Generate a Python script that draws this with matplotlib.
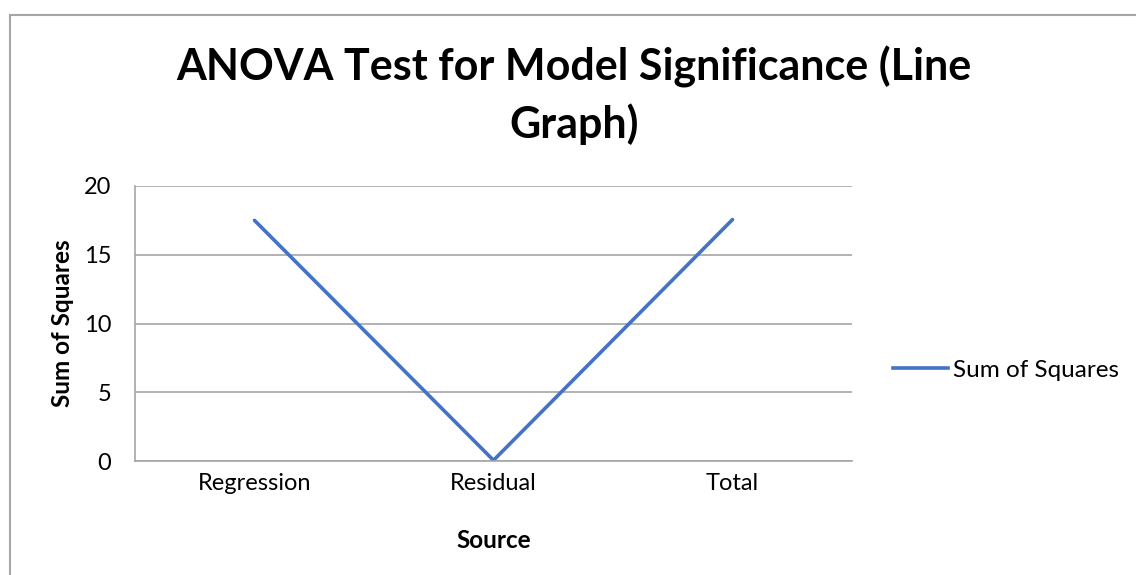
import matplotlib
matplotlib.use("Agg")
import matplotlib.pyplot as plt
from matplotlib.patches import Rectangle
from matplotlib.lines import Line2D

categories = ["Regression", "Residual", "Total"]
sum_of_squares = [17.5, 0.05, 17.56]
yticks = [0, 5, 10, 15, 20]

plt.rcParams['font.family'] = ['Lato', 'DejaVu Sans']

W, H = 1136, 575
fig = plt.figure(figsize=(W / 100, H / 100), dpi=100)

# outer chart border
fig.add_artist(Rectangle((10 / W, -0.01), 1.2, 1 - 15 / H + 0.01, transform=fig.transFigure,
                         fill=False, edgecolor="#a6a6a6", linewidth=1.5))

ax = fig.add_axes([135 / W, 1 - 461 / H, (852 - 135) / W, (461 - 186) / H])
x = range(len(categories))
ax.plot(x, sum_of_squares, color="#4472C4", linewidth=2.6, solid_capstyle="round",
        label="Sum of Squares")
ax.set_xlim(-0.5, len(categories) - 0.5)
ax.set_ylim(0, 20)
ax.set_yticks(yticks)
ax.set_xticks(list(x))
ax.set_xticklabels(categories)
ax.grid(axis="y", color="#a6a6a6", linewidth=1.2)
ax.set_axisbelow(True)
for s in ["top", "right"]:
    ax.spines[s].set_visible(False)
ax.spines["left"].set_color("#a6a6a6")
ax.spines["bottom"].set_color("#a6a6a6")
ax.spines["left"].set_linewidth(1.2)
ax.spines["bottom"].set_linewidth(1.2)
ax.tick_params(axis="both", length=0, labelsize=17, colors="black")
ax.tick_params(axis="y", pad=17)
ax.tick_params(axis="x", pad=9)
ax.set_xlabel("Source", fontsize=17.5, fontweight="bold")
ax.set_ylabel("Sum of Squares", fontsize=17.5, fontweight="bold")
ax.xaxis.set_label_coords(0.5, 1 - (540 - 186) / (461 - 186))
ax.xaxis.label.set_va("center")
ax.yaxis.set_label_coords((62 - 135) / (852 - 135), 0.5)
ax.yaxis.label.set_va("center")

fig.text(574 / W, 1 - 81 / H, "ANOVA Test for Model Significance (Line", ha="center",
         va="baseline", fontsize=31, fontweight="bold")
fig.text(574 / W, 1 - 138 / H, "Graph)", ha="center", va="baseline", fontsize=31,
         fontweight="bold")

handles = [Line2D([0], [0], color="#4472C4", linewidth=2.6)]
fig.legend(handles, ["Sum of Squares"], loc="center left",
           bbox_to_anchor=(893 / W, 1 - 370 / H), frameon=False, fontsize=17.5,
           handlelength=2.25, handletextpad=0.2, borderpad=0, borderaxespad=0)

fig.savefig("out.png", dpi=100)
